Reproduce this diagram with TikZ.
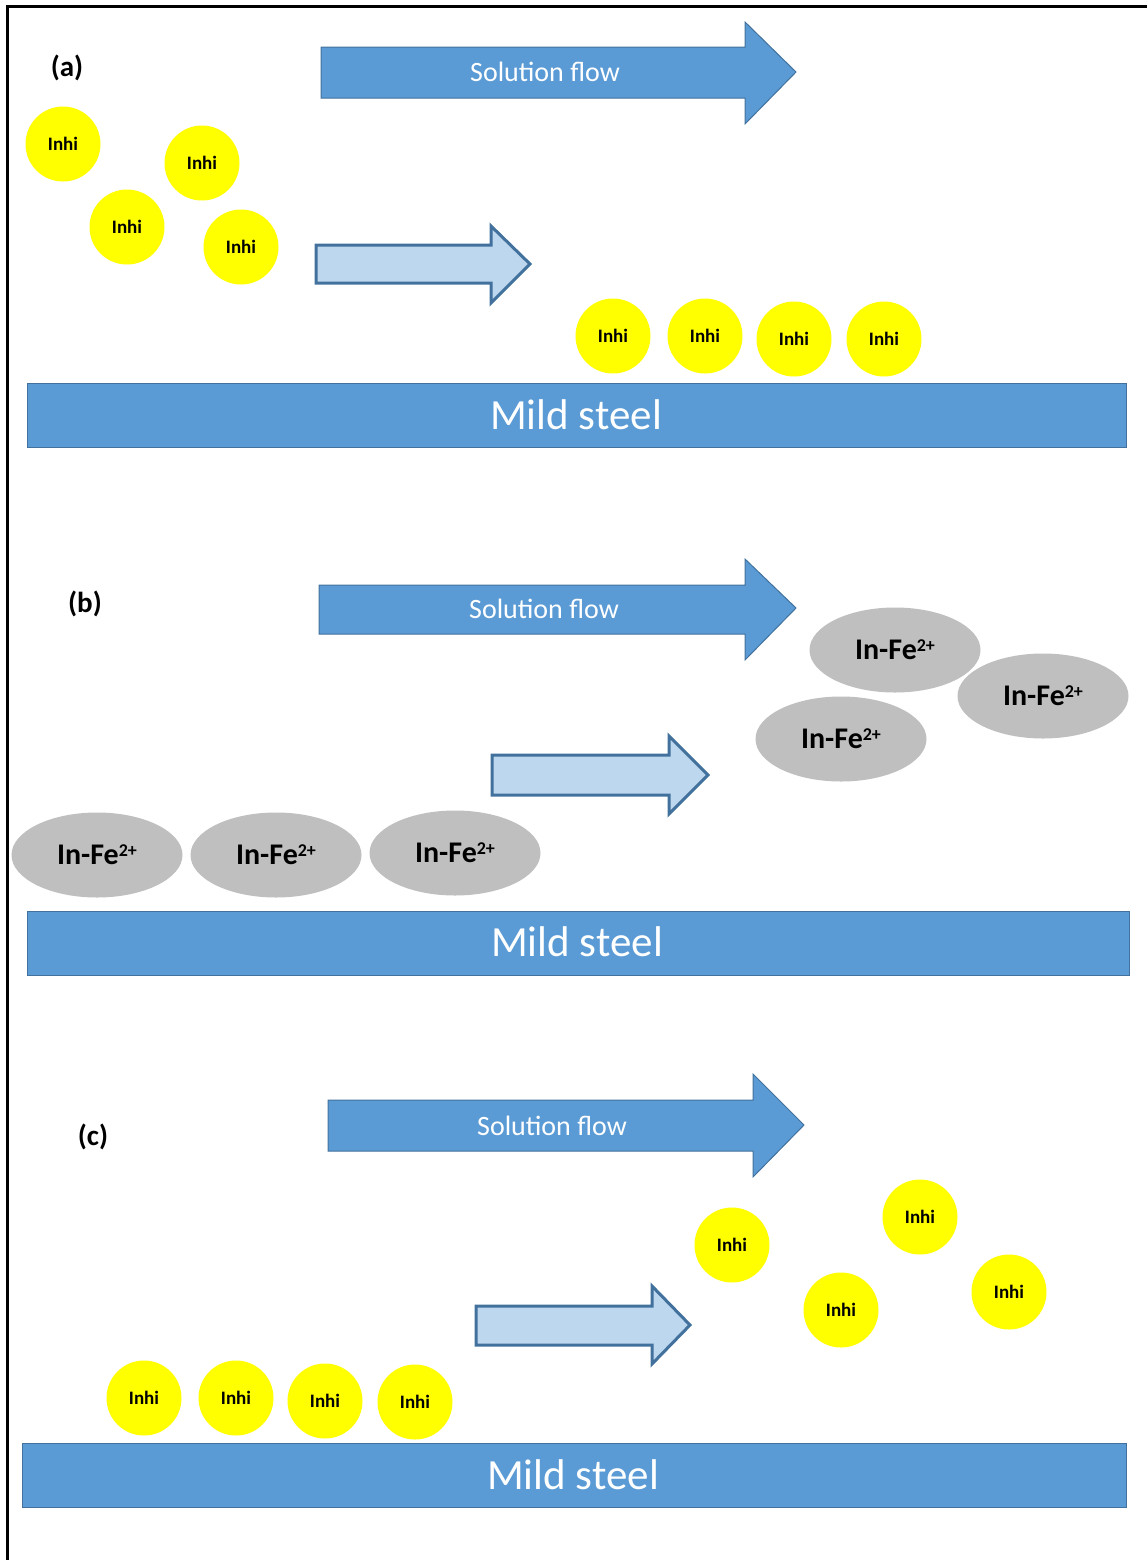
\documentclass[tikz,border=0pt]{standalone}
\usepackage{fontspec}
\setmainfont{Carlito}
\usetikzlibrary{shapes.geometric}
\definecolor{steelblue}{HTML}{5B9BD5}
\definecolor{steelline}{HTML}{41719C}
\definecolor{lightflow}{HTML}{BDD7EE}
\definecolor{inhiyellow}{HTML}{FFFF00}
\definecolor{complexgray}{HTML}{BFBFBF}
\tikzset{
  inhi/.style={circle, fill=inhiyellow, minimum size=37.5pt, inner sep=0pt,
    font=\fontsize{9.5}{10}\selectfont\bfseries},
  infe/.style={ellipse, fill=complexgray, minimum width=85.5pt, minimum height=42.5pt,
    inner sep=0pt, font=\fontsize{15}{16}\selectfont\bfseries},
  flowarrow/.style={fill=steelblue, draw=steelline, line width=0.5pt},
  movearrow/.style={fill=lightflow, draw=steelline, line width=1.5pt},
  steelbar/.style={fill=steelblue, draw=steelline, line width=0.5pt},
  flowtext/.style={text=white, font=\fontsize{14}{15}\selectfont},
  steeltext/.style={text=white, font=\fontsize{21.5}{23}\selectfont},
  panel/.style={font=\fontsize{14.5}{15}\selectfont\bfseries}
}
\newcommand{\infe}{In-Fe{\fontsize{9}{9}\selectfont\raisebox{0.45em}{2+}}}

\begin{document}
\begin{tikzpicture}[x=0.5pt, y=-0.5pt]
\useasboundingbox (0,0) rectangle (1147,1560);
\draw[line width=1.5pt] (7,1560) -- (7,6) -- (1147,6);

% (a)
\node[panel] (laba) at (67,68) {(a)};
\draw[flowarrow] (321,47) -- (745,47) -- (745,22) -- (796,72) -- (745,124) -- (745,98) -- (321,98) -- cycle;
\node[flowtext] (flowa) at (545,72) {Solution flow};
\draw[movearrow] (316,245) -- (491,245) -- (491,226) -- (530,264) -- (491,303) -- (491,283) -- (316,283) -- cycle;

\node[inhi] (a1) at (63,144) {Inhi};
\node[inhi] (a2) at (202,163) {Inhi};
\node[inhi] (a3) at (127,227) {Inhi};
\node[inhi] (a4) at (241,247) {Inhi};
\node[inhi] (a5) at (613,336) {Inhi};
\node[inhi] (a6) at (705,336) {Inhi};
\node[inhi] (a7) at (794,339) {Inhi};
\node[inhi] (a8) at (884,339) {Inhi};

\draw[steelbar] (27,383) rectangle (1126,447);
\node[steeltext] (steela) at (576,415) {Mild steel};

% (b)
\node[panel] (labb) at (85,604) {(b)};
\draw[flowarrow] (319,585) -- (745,585) -- (745,559) -- (796,608) -- (745,660) -- (745,634) -- (319,634) -- cycle;
\node[flowtext] (flowb) at (544,609) {Solution flow};
\draw[movearrow] (492,755) -- (669,755) -- (669,736) -- (708,775) -- (669,814) -- (669,795) -- (492,795) -- cycle;

\node[infe] (b1) at (97,855) {\infe};
\node[infe] (b2) at (276,855) {\infe};
\node[infe] (b3) at (455,853) {\infe};
\node[infe] (b4) at (895,650) {\infe};
\node[infe] (b5) at (1043,696) {\infe};
\node[infe] (b6) at (841,739) {\infe};

\draw[steelbar] (27,911) rectangle (1129,975);
\node[steeltext] (steelb) at (577,942) {Mild steel};

% (c)
\node[panel] (labc) at (93,1137) {(c)};
\draw[flowarrow] (328,1100) -- (753,1100) -- (753,1074) -- (804,1125) -- (753,1177) -- (753,1151) -- (328,1151) -- cycle;
\node[flowtext] (flowc) at (552,1126) {Solution flow};
\draw[movearrow] (476,1306) -- (652,1306) -- (652,1286) -- (690,1325) -- (652,1364) -- (652,1345) -- (476,1345) -- cycle;

\node[inhi] (c1) at (732,1245) {Inhi};
\node[inhi] (c2) at (920,1217) {Inhi};
\node[inhi] (c3) at (841,1310) {Inhi};
\node[inhi] (c4) at (1009,1292) {Inhi};
\node[inhi] (c5) at (144,1398) {Inhi};
\node[inhi] (c6) at (236,1398) {Inhi};
\node[inhi] (c7) at (325,1401) {Inhi};
\node[inhi] (c8) at (415,1402) {Inhi};

\draw[steelbar] (22,1443) rectangle (1126,1507);
\node[steeltext] (steelc) at (573,1475) {Mild steel};
\end{tikzpicture}
\end{document}
